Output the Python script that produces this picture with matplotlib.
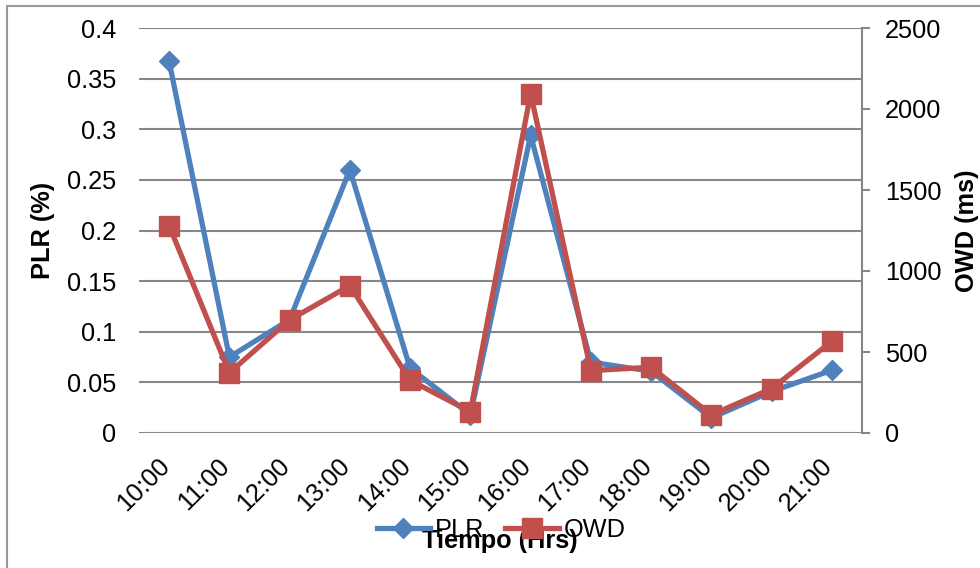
import matplotlib
matplotlib.use("Agg")
import matplotlib.pyplot as plt
import matplotlib.transforms as mtransforms
from matplotlib.patches import Rectangle

plt.rcParams['font.family'] = ['Liberation Sans', 'DejaVu Sans']

# data
horas = ["10:00", "11:00", "12:00", "13:00", "14:00", "15:00",
         "16:00", "17:00", "18:00", "19:00", "20:00", "21:00"]
plr = [0.367, 0.075, 0.112, 0.260, 0.064, 0.018,
       0.294, 0.070, 0.061, 0.015, 0.041, 0.062]
owd = [1280, 372, 698, 910, 325, 132,
       2095, 385, 406, 112, 274, 566]

azul = "#4F81BD"
rojo = "#C0504D"
gris = "#878787"
fs = 18.3

fig = plt.figure(figsize=(9.8, 5.68), dpi=100)
ax = fig.add_axes([139/980, 135/568, 723/980, 405/568])
ax2 = ax.twinx()

x = list(range(len(horas)))
l1, = ax.plot(x, plr, color=azul, lw=3.8, marker='D', ms=10,
              label="PLR", solid_joinstyle='round')
l2, = ax2.plot(x, owd, color=rojo, lw=3.8, marker='s', ms=14.5,
               label="OWD", solid_joinstyle='round')

ax.set_xlim(-0.5, len(horas) - 0.5)
ax.set_ylim(0, 0.4)
ax2.set_ylim(0, 2500)
ax.set_yticks([i * 0.05 for i in range(9)])
ax.set_yticklabels(["0", "0.05", "0.1", "0.15", "0.2", "0.25",
                    "0.3", "0.35", "0.4"])
ax2.set_yticks(range(0, 2501, 500))

ax.grid(axis='y', color=gris, lw=1.5)
ax.set_axisbelow(True)
for s in ['top', 'left', 'bottom', 'right']:
    ax.spines[s].set_visible(False)
for s in ['top', 'left', 'bottom']:
    ax2.spines[s].set_visible(False)
ax2.spines['right'].set_color(gris)
ax2.spines['right'].set_linewidth(1.5)

ax.tick_params(axis='y', length=0, pad=16.5, labelsize=fs)
ax.tick_params(axis='x', length=0, pad=15, labelsize=fs)
ax2.tick_params(axis='y', length=6, width=1.5, color=gris, pad=10.5,
                labelsize=fs)

ax.set_xticks(x)
ax.set_xticklabels(horas, rotation=45, ha='right', va='top')
off = mtransforms.ScaledTranslation(5/100, 0, fig.dpi_scale_trans)
for t in ax.get_xticklabels():
    t.set_transform(t.get_transform() + off)

ax.set_ylabel("PLR (%)", fontsize=fs, fontweight='bold')
ax.yaxis.set_label_coords(-0.116, 0.5)
ax2.set_ylabel("OWD (ms)", fontsize=fs, fontweight='bold')
ax2.yaxis.set_label_coords(1.129, 0.5)

fig.text(500/980, 1 - 541/568, "Tiempo (Hrs)", fontsize=fs,
         fontweight='bold', ha='center', va='center')
fig.legend(handles=[l1, l2], loc='center', ncol=2, frameon=False,
           bbox_to_anchor=(501/980, 1 - 530/568), fontsize=fs,
           handlelength=2.1, handletextpad=0.18, columnspacing=0.84,
           borderaxespad=0, borderpad=0)

fig.patches.append(Rectangle((7/980, -0.05), 1.1, 1 - 6/568 + 0.05,
                             transform=fig.transFigure, fill=False,
                             edgecolor="#999999", lw=1.5))

fig.savefig("out.png", dpi=100)
